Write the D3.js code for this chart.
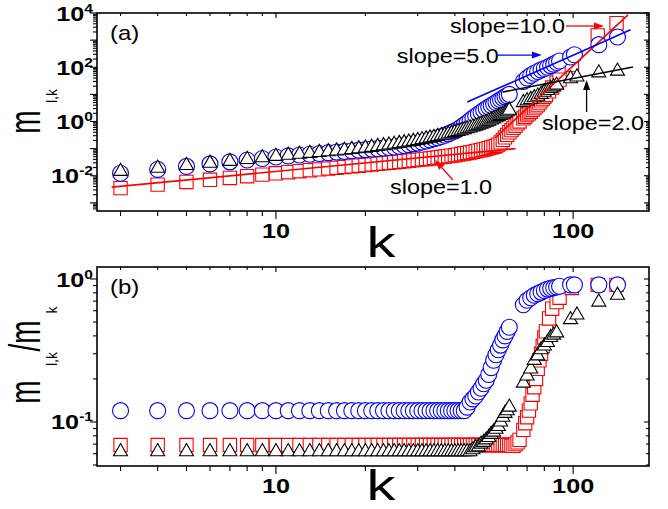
<!DOCTYPE html>
<html>
<head>
<meta charset="utf-8">
<script src="https://cdn.jsdelivr.net/npm/d3@7/dist/d3.min.js"></script>
<style>
  body { margin: 0; background: #fff; }
  svg { display: block; }
  text { font-family: "Liberation Sans", Arial, sans-serif; }
</style>
</head>
<body>
<div id="chart"></div>
<script>
// ---- data ----
var kCircle = [3,4,5,6,7,8,9,10,11,12,13,14,15,16,17,18,19,20,21,22,23,24,25,26,27,28,29,30,
  31,32,33,34,35,36,37,38,39,40,41,42,43,44,45,46,47,48,49,50,51,52,53,54,55,56,57,58,59,60,61,
  68,70,72,74,76,78,80,82,84,86,88,90,98,101,122,141];
var mCircle = [0.0123,0.0171,0.0221,0.0273,0.0325,0.038,0.0432,0.049,
  0.054,0.058,0.062,0.066,0.071,0.075,0.079,0.083,0.088,0.092,
  0.097,0.10,0.105,0.11,0.115,0.122,0.13,0.14,0.15,0.16,
  0.175,0.19,0.21,0.23,0.25,0.28,0.31,0.35,0.40,0.45,
  0.52,0.62,0.75,0.9,1.1,1.35,1.6,1.9,2.2,2.6,
  3.0,3.4,3.9,4.4,5.0,5.7,6.4,7.2,8.1,9.0,10.0,
  30,40,50,60,70,80,90,100,115,130,150,170,240,290,680,1300];
var rCircle = [0.12,0.12,0.12,0.12,0.12,0.12,0.12,0.12,0.12,0.12,
  0.12,0.12,0.12,0.12,0.12,0.12,0.12,0.12,0.12,0.12,
  0.12,0.12,0.12,0.12,0.12,0.12,0.12,0.12,0.12,0.12,
  0.12,0.12,0.12,0.12,0.12,0.12,0.12,0.12,0.12,0.12,0.12,
  0.127,0.138,0.145,0.152,0.162,0.172,0.185,0.196,0.215,0.24,0.27,0.295,0.32,0.345,0.375,0.40,0.43,0.46,
  0.66,0.71,0.74,0.77,0.79,0.81,0.83,0.85,0.86,0.87,0.88,0.89,0.91,0.91,0.91,0.91];

var kTriangle = [3,4,5,6,7,8,9,10,11,12,13,14,15,16,17,18,19,20,21,22,23,24,25,26,27,28,29,30,
  31,32,33,34,35,36,37,38,39,40,41,42,43,44,45,46,47,48,49,50,51,52,53,54,55,56,57,58,59,60,61,
  68,70,72,74,76,78,80,82,84,86,88,98,103,122,141];
var mTriangle = [0.0145,0.019,0.024,0.029,0.034,0.040,0.046,0.052,
  0.057,0.062,0.067,0.072,0.077,0.082,0.087,0.093,0.099,0.105,
  0.112,0.12,0.128,0.136,0.145,0.155,0.165,0.175,0.186,0.2,
  0.215,0.23,0.245,0.26,0.28,0.30,0.32,0.345,0.37,0.4,
  0.43,0.46,0.5,0.54,0.58,0.63,0.68,0.74,0.8,0.87,
  0.95,1.04,1.14,1.25,1.38,1.52,1.68,1.85,2.05,2.3,2.6,
  5.0,5.8,6.5,7.5,8.6,10,12,14,16.5,19,22,38,44,62,72];
var rTriangle = [0.062,0.062,0.062,0.062,0.062,0.062,0.062,0.062,0.062,0.062,
  0.062,0.062,0.062,0.062,0.062,0.062,0.062,0.062,0.062,0.062,
  0.062,0.062,0.062,0.062,0.062,0.062,0.062,0.062,0.062,0.062,
  0.062,0.062,0.062,0.062,0.062,0.062,0.062,0.062,0.062,0.062,0.062,0.062,0.062,
  0.064,0.066,0.067,0.07,0.072,0.075,0.078,0.082,0.085,0.089,0.093,0.1,0.108,0.115,0.12,0.127,
  0.187,0.21,0.235,0.27,0.29,0.32,0.34,0.36,0.39,0.405,0.42,0.52,0.56,0.69,0.77];

var kSquare = [3,4,5,6,7,8,9,10,11,12,13,14,15,16,17,18,19,20,21,22,23,24,25,26,27,28,29,30,
  31,32,33,34,35,36,37,38,39,40,41,42,43,44,45,46,47,48,49,50,51,52,53,54,55,56,57,58,59,60,
  61,62,63,64,65,66,
  68,69,70,71,72,73,74,75,76,77,78,79,80,81,83,85,88,90,99,121,140];
var mSquare = [0.0035,0.0047,0.0059,0.0071,0.0083,0.0096,0.011,0.0123,
  0.0135,0.0147,0.016,0.0172,0.0185,0.0197,0.021,0.0222,0.0235,0.0248,
  0.026,0.0273,0.0286,0.03,0.0313,0.0326,0.034,0.0355,0.037,0.0385,
  0.04,0.0415,0.043,0.045,0.047,0.049,0.051,0.053,0.055,0.057,
  0.06,0.063,0.066,0.069,0.072,0.076,0.08,0.084,0.088,0.093,
  0.098,0.104,0.11,0.117,0.125,0.14,0.17,0.21,0.26,0.32,
  0.4,0.48,0.58,0.7,0.85,1.0,
  1.3,1.5,1.8,2.0,2.3,2.7,3.1,3.6,4.2,5.0,6.0,7.0,8.2,9.5,13,18,27,35,120,1500,4200];
var rSquare = [0.069,0.069,0.069,0.069,0.069,0.069,0.069,0.069,0.069,0.069,
  0.069,0.069,0.069,0.069,0.069,0.069,0.069,0.069,0.069,0.069,
  0.069,0.069,0.069,0.069,0.069,0.069,0.069,0.069,0.069,0.069,
  0.069,0.069,0.069,0.069,0.069,0.069,0.069,0.069,0.069,0.069,
  0.069,0.069,0.069,0.069,0.069,0.069,0.069,0.069,0.069,0.069,
  0.069,0.069,0.069,0.069,0.069,0.069,0.069,0.069,0.069,
  0.068,0.068,0.07,0.072,0.075,
  0.088,0.098,0.108,0.12,0.135,0.155,0.175,0.2,0.235,0.27,0.3,0.34,0.39,0.43,0.53,0.62,0.69,0.74,0.865,0.91,0.91];

// fitted power laws in panel (a), endpoints [k, m]
var fitSlope1 = [[2.8, 0.0038], [64, 0.1]];
var fitSlope2 = [[58, 12.2], [159, 102]];
var fitSlope5 = [[44, 5.2], [156, 2400]];
var fitSlope10 = [[54.6, 0.245], [153, 8500]];

var slopeLabels = ['slope=10.0', 'slope=5.0', 'slope=2.0', 'slope=1.0'];
var slopeLabelAt = [[38.5, 1830], [25.5, 143], [78.5, 0.485], [24.2, 0.00212]];
var slopeArrows = [[[94.6, 3320], [127, 3320]], [[55.8, 282], [78.5, 282]],
  [[111, 2.24], [111, 34]], [[39.4, 0.00695], [34.3, 0.038]]];

var xTickLabels = [10, 100];
var yTickExpA = [-2, 0, 2, 4];
var yTickExpB = [-1, 0];

// ---- drawing ----
var width = 668, height = 509;
var blue = '#0000ff', red = '#ff0000', black = '#000000';
var arrowColors = [red, blue, black, red];

var svg = d3.select('#chart').append('svg').attr('width', width).attr('height', height);

var x = d3.scaleLog().domain([2.5, 180]).range([97, 649]);
var yA = d3.scaleLog().domain([Math.pow(10, -3.3), 1e4]).range([211, 13]);
var yB = d3.scaleLog().domain([Math.pow(10, -1.308), Math.pow(10, 0.084)]).range([466, 267]);

function logTicks(dom) {
  var t = [];
  var lo = Math.floor(Math.log10(dom[0])), hi = Math.ceil(Math.log10(dom[1]));
  for (var d = lo; d <= hi; d++) {
    for (var n = 1; n <= 9; n++) {
      var v = n * Math.pow(10, d);
      if (v >= dom[0] * 0.9999 && v <= dom[1] * 1.0001) t.push(v);
    }
  }
  return t;
}

function isMajor(v) {
  var l = Math.log10(v);
  return Math.abs(l - Math.round(l)) < 1e-6;
}

function addText(px, py, str, size, opts) {
  opts = opts || {};
  return svg.append('text')
    .attr('transform', 'translate(' + px + ',' + py + ') scale(' + (opts.sx || 1.2) + ',1)')
    .attr('text-anchor', opts.anchor || 'start')
    .style('font-size', size + 'px')
    .style('font-weight', opts.weight || 'normal')
    .attr('fill', opts.color || black)
    .text(str);
}

function rotText(px, py, str, size, sx) {
  return svg.append('text')
    .attr('transform', 'translate(' + px + ',' + py + ') scale(' + sx + ',1) rotate(-90)')
    .attr('text-anchor', 'middle')
    .style('font-size', size + 'px')
    .text(str);
}

function drawAxes(y, exps, panelLabel, titleDrop) {
  var top = y.range()[1], bottom = y.range()[0];
  var left = x.range()[0], right = x.range()[1];
  var g = svg.append('g').attr('stroke', black).attr('stroke-width', 1.1);

  logTicks(x.domain()).forEach(function(v) {
    var px = x(v), major = isMajor(v);
    g.append('line').attr('x1', px).attr('x2', px).attr('y1', bottom).attr('y2', bottom + (major ? 8 : 5));
    g.append('line').attr('x1', px).attr('x2', px).attr('y1', top).attr('y2', top + (major ? 5 : 3));
  });
  logTicks(y.domain()).forEach(function(v) {
    var py = y(v), major = isMajor(v);
    g.append('line').attr('x1', left).attr('x2', left - (major ? 7 : 4)).attr('y1', py).attr('y2', py);
    g.append('line').attr('x1', right).attr('x2', right - (major ? 5 : 3)).attr('y1', py).attr('y2', py);
  });

  svg.append('rect').attr('x', left).attr('y', top)
    .attr('width', right - left).attr('height', bottom - top)
    .attr('fill', 'none').attr('stroke', black).attr('stroke-width', 1.6);

  xTickLabels.forEach(function(v) {
    addText(x(v), bottom + 27, String(v), 21, {anchor: 'middle', weight: 'bold'});
  });
  exps.forEach(function(e) {
    var t = addText(93, y(Math.pow(10, e)) + 7.5, '', 21, {anchor: 'end', weight: 'bold'});
    t.append('tspan').text('10');
    t.append('tspan').attr('dy', -8).style('font-size', '13px').text(String(e));
  });

  addText(110, top + 27, panelLabel, 20);
  addText(381, bottom + titleDrop, 'k', 42, {anchor: 'middle', sx: 1.38});
}

function drawSeries(y, ks, vals, type, size, color) {
  var sym = d3.symbol().type(type).size(size);
  svg.append('g').selectAll('path')
    .data(ks.map(function(k, i) { return [k, vals[i]]; }))
    .enter().append('path')
    .attr('transform', function(d) { return 'translate(' + x(d[0]) + ',' + y(d[1]) + ')'; })
    .attr('d', sym)
    .attr('fill', '#fff')
    .attr('stroke', color)
    .attr('stroke-width', 1.1);
}

function drawFit(pts, color) {
  var line = d3.line().x(function(d) { return x(d[0]); }).y(function(d) { return yA(d[1]); });
  svg.append('path').attr('d', line(pts)).attr('fill', 'none')
    .attr('stroke', color).attr('stroke-width', 1.6);
}

function drawArrow(a, color) {
  var x1 = x(a[0][0]), y1 = yA(a[0][1]), x2 = x(a[1][0]), y2 = yA(a[1][1]);
  var ang = Math.atan2(y2 - y1, x2 - x1), hl = 10, hw = 3.5;
  var bx = x2 - hl * Math.cos(ang), by = y2 - hl * Math.sin(ang);
  svg.append('line').attr('x1', x1).attr('y1', y1).attr('x2', bx).attr('y2', by)
    .attr('stroke', color).attr('stroke-width', 1.3);
  svg.append('path')
    .attr('d', 'M' + x2 + ',' + y2 +
      'L' + (bx + hw * Math.sin(ang)) + ',' + (by - hw * Math.cos(ang)) +
      'L' + (bx - hw * Math.sin(ang)) + ',' + (by + hw * Math.cos(ang)) + 'Z')
    .attr('fill', color);
}

// panel (a)
drawAxes(yA, yTickExpA, '(a)', 46);
drawSeries(yA, kSquare, mSquare, d3.symbolSquare, 177, red);
drawSeries(yA, kCircle, mCircle, d3.symbolCircle, 201, blue);
drawSeries(yA, kTriangle, mTriangle, d3.symbolTriangle, 85, black);
drawFit(fitSlope1, red);
drawFit(fitSlope10, red);
drawFit(fitSlope5, blue);
drawFit(fitSlope2, black);
slopeLabels.forEach(function(s, i) {
  addText(x(slopeLabelAt[i][0]), yA(slopeLabelAt[i][1]), s, 19.5);
  drawArrow(slopeArrows[i], arrowColors[i]);
});

// panel (b)
drawAxes(yB, yTickExpB, '(b)', 34);
drawSeries(yB, kSquare, rSquare, d3.symbolSquare, 177, red);
drawSeries(yB, kCircle, rCircle, d3.symbolCircle, 201, blue);
drawSeries(yB, kTriangle, rTriangle, d3.symbolTriangle, 85, black);

// y titles
rotText(40, 122, 'm', 28, 1.57);
rotText(57, 96, 'l,k', 14, 1.1);
rotText(40, 392, 'm', 28, 1.57);
rotText(57, 359, 'l,k', 14, 1.1);
rotText(40, 336, '/m', 28, 1.57);
rotText(57, 310, 'k', 14, 1.1);
</script>
</body>
</html>
